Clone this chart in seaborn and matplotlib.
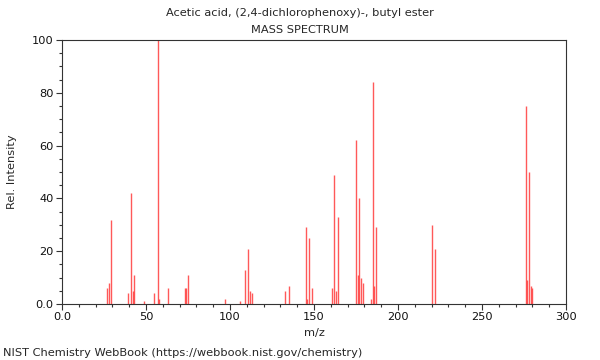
import matplotlib
matplotlib.use("Agg")
import matplotlib.pyplot as plt
import seaborn as sns
import numpy as np
import pandas as pd
from matplotlib.ticker import MultipleLocator, FuncFormatter

title_lines = ["Acetic acid, (2,4-dichlorophenoxy)-, butyl ester", "MASS SPECTRUM"]
mz = [27, 28, 29, 39, 41, 42, 43, 49, 55, 57, 58, 63, 73, 74, 75,
      97, 106, 109, 111, 112, 113, 133, 135, 145, 146, 147, 149,
      161, 162, 163, 164, 175, 176, 177, 178, 179, 184, 185, 186, 187,
      220, 222, 276, 277, 278, 279, 280]
intensity = [6, 8, 32, 4, 42, 5, 11, 1, 4, 100, 2, 6, 6, 6, 11,
             2, 1, 13, 21, 5, 4, 5, 7, 29, 2, 25, 6,
             6, 49, 5, 33, 62, 11, 40, 10, 8, 2, 84, 7, 29,
             30, 21, 75, 9, 50, 7, 6]
x_label = "m/z"
y_label = "Rel. Intensity"
footer = "NIST Chemistry WebBook (https://webbook.nist.gov/chemistry)"

df = pd.DataFrame({"mz": mz, "intensity": intensity})

sns.set_style("ticks")
plt.rcParams["font.family"] = ["DejaVu Sans"]

fs = 8.2
fig = plt.figure(figsize=(6.0, 3.6), dpi=100)
ax = fig.add_axes([62/600, 1 - 304/360, (566-62)/600, (304-40)/360])

ax.vlines(df["mz"], 0, df["intensity"], color="#ff3030", linewidth=1.0, alpha=0.8)

ax.set_xlim(0, 300)
ax.set_ylim(0, 100)
ax.xaxis.set_major_locator(MultipleLocator(50))
ax.xaxis.set_minor_locator(MultipleLocator(10))
ax.yaxis.set_major_locator(MultipleLocator(20))
ax.yaxis.set_minor_locator(MultipleLocator(5))
fmt = FuncFormatter(lambda v, p: "0.0" if v == 0 else f"{v:g}")
ax.xaxis.set_major_formatter(fmt)
ax.yaxis.set_major_formatter(fmt)
ax.tick_params(axis="both", which="major", labelsize=fs, length=4, width=0.8,
               color="#333333", labelcolor="#111111", pad=2)
ax.tick_params(axis="both", which="minor", length=2.5, width=0.8, color="#333333")
for s in ax.spines.values():
    s.set_visible(True)
    s.set_color("#333333")
    s.set_linewidth(0.8)

ax.set_xlabel(x_label, fontsize=fs, labelpad=4)
ax.set_ylabel(y_label, fontsize=fs, labelpad=11)

fig.text(0.5, 1 - 13/360, title_lines[0], ha="center", va="center", fontsize=fs)
fig.text(0.5, 1 - 30/360, title_lines[1], ha="center", va="center", fontsize=fs)
fig.text(3/600, 1 - 353/360, footer, ha="left", va="center", fontsize=fs)

fig.savefig("out.png", dpi=100)
